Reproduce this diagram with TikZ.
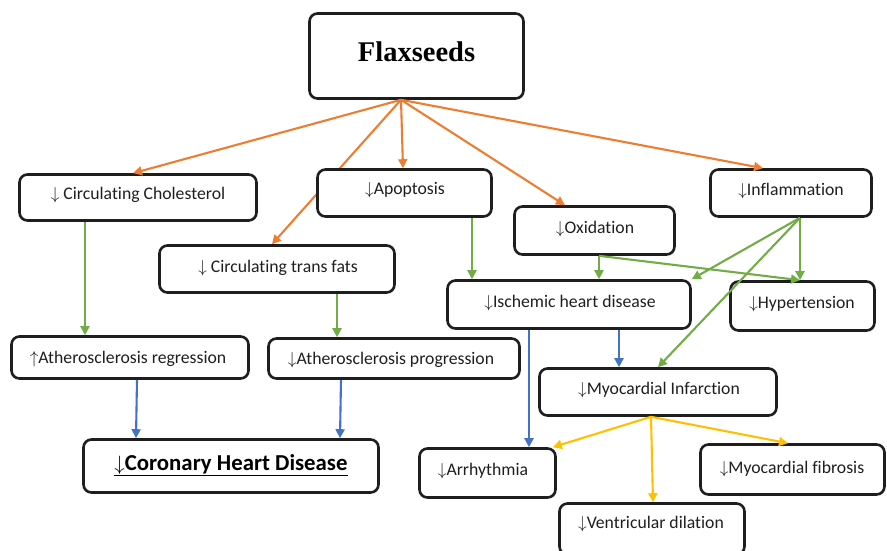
\documentclass[tikz,border=0pt]{standalone}
\usepackage{fontspec}
\setmainfont[Ligatures={NoCommon}]{Carlito}
\newfontfamily\titlefont{Liberation Serif}
\usetikzlibrary{arrows.meta,backgrounds}
\definecolor{orangeC}{HTML}{ED7D31}
\definecolor{greenC}{HTML}{70AD47}
\definecolor{blueC}{HTML}{4472C4}
\definecolor{yellowC}{HTML}{FFC000}
\definecolor{edgeC}{HTML}{1E1E1E}
\newcommand{\dn}{$\downarrow$}
\newcommand{\up}{$\uparrow$}
\tikzset{
  box/.style={draw=edgeC, line width=2.6pt, rounded corners=8pt, fill=white, inner sep=0pt},
  lbl/.style={font=\fontsize{17.7}{20}\selectfont, text=black!88, text height=0.65em, text depth=0pt, inner sep=0pt, yshift=-3pt},
  link/.style={line width=2.1pt, -{Triangle[length=9pt,width=9pt]}},
  orangeL/.style={link, draw=orangeC, orangeC},
  greenL/.style={link, draw=greenC, greenC},
  blueL/.style={link, draw=blueC, blueC},
  yellowL/.style={link, draw=yellowC, yellowC},
}
\begin{document}
\begin{tikzpicture}[x=1pt,y=-1pt]
\useasboundingbox (0,0) rectangle (887,550);

% boxes
\node[box, minimum width=214, minimum height=85] (flax)  at (416.5,56)  {};
\node[box, minimum width=237, minimum height=46] (chol)  at (138,197.5) {};
\node[box, minimum width=174, minimum height=47] (apop)  at (404.5,193) {};
\node[box, minimum width=235, minimum height=47] (trans) at (277,269)   {};
\node[box, minimum width=160, minimum height=48] (oxid)  at (594.5,230.5) {};
\node[box, minimum width=161, minimum height=47] (infl)  at (791,193)   {};
\node[box, minimum width=243, minimum height=48] (isch)  at (569,304.5) {};
\node[box, minimum width=144, minimum height=49] (hyper) at (802.5,306) {};
\node[box, minimum width=237, minimum height=42] (areg)  at (130,357.5) {};
\node[box, minimum width=251, minimum height=40] (aprog) at (394,358.5) {};
\node[box, minimum width=237, minimum height=47] (mi)    at (658,392)   {};
\node[box, minimum width=295, minimum height=53] (chd)   at (231,466)   {};
\node[box, minimum width=136, minimum height=49] (arr)   at (487.5,473) {};
\node[box, minimum width=184, minimum height=50] (fib)   at (792.5,469.5) {};
\node[box, minimum width=185, minimum height=51] (vent)  at (652,529)   {};

% labels
\node[lbl, font=\titlefont\bfseries\fontsize{28.5}{32}\selectfont, text=black, yshift=-5pt] (tflax) at (416.5,50) {Flaxseeds};
\node[lbl] (tchol)  at (138,193)  {\dn\ Circulating Cholesterol};
\node[lbl] (tapop)  at (405,188)  {\dn Apoptosis};
\node[lbl] (ttrans) at (278,266)  {\dn\ Circulating trans fats};
\node[lbl] (toxid)  at (595,227)  {\dn Oxidation};
\node[lbl] (tinfl)  at (791,189)  {\dn Inflammation};
\node[lbl] (tisch)  at (570,301)  {\dn Ischemic heart disease};
\node[lbl] (thyper) at (802,302)  {\dn Hypertension};
\node[lbl] (tareg)  at (128,357)  {\up Atherosclerosis regression};
\node[lbl] (taprog) at (391,358)  {\dn Atherosclerosis progression};
\node[lbl] (tmi)    at (659,388)  {\dn Myocardial Infarction};
\node[lbl, font=\bfseries\fontsize{22.8}{26}\selectfont, text=black] (tchd) at (231,464) {\underline{\dn Coronary Heart Disease}};
\node[lbl] (tarr)   at (483,469)  {\dn Arrhythmia};
\node[lbl] (tfib)   at (792,467)  {\dn Myocardial fibrosis};
\node[lbl] (tvent)  at (651,522)  {\dn Ventricular dilation};

% hubs where fans of connectors start
\coordinate (fhub) at ([xshift=-15.5pt]flax.south);
\coordinate (ohub) at ([xshift=4.5pt]oxid.south);
\coordinate (ihub) at ([xshift=9pt]infl.south);
\coordinate (mhub) at ([xshift=-7pt]mi.south);

% orange: effects of flaxseeds
\begin{scope}[on background layer]
  \draw[orangeL] (fhub) -- ([xshift=-5pt]trans.north);
\end{scope}
\draw[orangeL] (fhub) -- ([xshift=-5pt]chol.north);
\draw[orangeL] (fhub) -- ([xshift=-1.5pt]apop.north);
\draw[orangeL] (fhub) -- ([xshift=-29.5pt]oxid.north);
\draw[orangeL] (fhub) -- ([xshift=-28pt]infl.north);

% green
\draw[greenL] ([xshift=-53pt]chol.south) -- ([xshift=-45pt]areg.north);
\draw[greenL] ([xshift=67.5pt]apop.south) -- ([xshift=-97pt]isch.north);
\draw[greenL] ([xshift=60pt]trans.south) -- ([xshift=-57pt]aprog.north);
\draw[greenL] (ohub) -- ([xshift=30pt]isch.north);
\draw[greenL] (ohub) -- ([xshift=-2.5pt]hyper.north);
\draw[greenL] (ihub) -- ([xshift=-2.5pt]hyper.north);
\draw[greenL] (ihub) -- (isch.north east);
\draw[greenL] (ihub) -- (mi.north);

% blue
\draw[blueL] ([xshift=7pt]areg.south) -- ([xshift=-95pt]chd.north);
\draw[blueL] ([xshift=-53pt]aprog.south) -- ([xshift=109pt]chd.north);
\draw[blueL] ([xshift=-40pt]isch.south) -- ([xshift=41.5pt]arr.north);
\draw[blueL] ([xshift=50pt]isch.south) -- ([xshift=-39pt]mi.north);

% yellow
\draw[yellowL] (mhub) -- ([xshift=-4pt]arr.north east);
\draw[yellowL] (mhub) -- ([xshift=1pt]vent.north);
\draw[yellowL] (mhub) -- ([xshift=-4.5pt]fib.north);
\end{tikzpicture}
\end{document}
